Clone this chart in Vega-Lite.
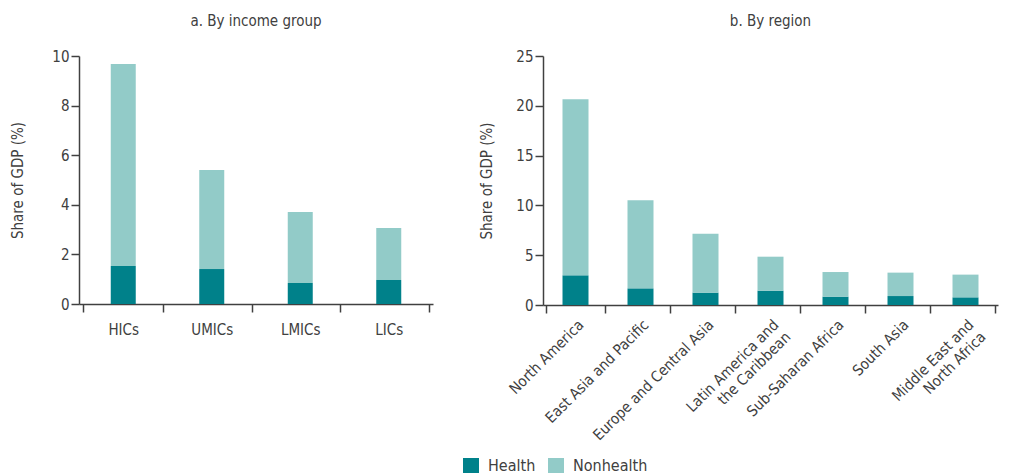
{
  "$schema": "https://vega.github.io/schema/vega-lite/v6.json",
  "background": "white",
  "padding": {"left": 10, "top": 14, "right": 5, "bottom": 0},
  "spacing": 46,
  "datasets": {
    "income": [
      {"group": "HICs", "component": "Health", "value": 1.53},
      {"group": "HICs", "component": "Nonhealth", "value": 8.15},
      {"group": "UMICs", "component": "Health", "value": 1.41},
      {"group": "UMICs", "component": "Nonhealth", "value": 3.99},
      {"group": "LMICs", "component": "Health", "value": 0.85},
      {"group": "LMICs", "component": "Nonhealth", "value": 2.86},
      {"group": "LICs", "component": "Health", "value": 0.97},
      {"group": "LICs", "component": "Nonhealth", "value": 2.09}
    ],
    "region": [
      {"region": "North America", "component": "Health", "value": 2.98},
      {"region": "North America", "component": "Nonhealth", "value": 17.67},
      {"region": "East Asia and Pacific", "component": "Health", "value": 1.67},
      {"region": "East Asia and Pacific", "component": "Nonhealth", "value": 8.84},
      {"region": "Europe and Central Asia", "component": "Health", "value": 1.24},
      {"region": "Europe and Central Asia", "component": "Nonhealth", "value": 5.92},
      {"region": "Latin America and|the Caribbean", "component": "Health", "value": 1.44},
      {"region": "Latin America and|the Caribbean", "component": "Nonhealth", "value": 3.41},
      {"region": "Sub-Saharan Africa", "component": "Health", "value": 0.84},
      {"region": "Sub-Saharan Africa", "component": "Nonhealth", "value": 2.47},
      {"region": "South Asia", "component": "Health", "value": 0.9},
      {"region": "South Asia", "component": "Nonhealth", "value": 2.35},
      {"region": "Middle East and|North Africa", "component": "Health", "value": 0.77},
      {"region": "Middle East and|North Africa", "component": "Nonhealth", "value": 2.28}
    ]
  },
  "config": {
    "font": "Liberation Sans Narrow, DejaVu Sans Condensed, Roboto, sans-serif",
    "view": {"stroke": null},
    "axis": {
      "domainColor": "#404040",
      "tickColor": "#404040",
      "labelColor": "#404040",
      "titleColor": "#404040",
      "labelFontSize": 15,
      "titleFontSize": 15,
      "titleFontWeight": "normal",
      "tickSize": 8,
      "domainWidth": 1.5,
      "tickWidth": 1.5,
      "grid": false
    },
    "title": {"fontSize": 15, "fontWeight": "normal", "color": "#404040", "offset": 20},
    "legend": {"labelFontSize": 16, "labelColor": "#404040"}
  },
  "resolve": {"scale": {"color": "shared"}},
  "hconcat": [
    {
      "width": 354,
      "height": 248,
      "title": {"text": "a. By income group"},
      "data": {"name": "income"},
      "mark": {"type": "bar", "width": 25},
      "encoding": {
        "x": {"field": "group", "type": "nominal", "sort": null,
          "axis": {"title": null, "labelAngle": 0, "tickBand": "extent", "labelPadding": 10}},
        "y": {"field": "value", "type": "quantitative", "stack": "zero",
          "scale": {"domain": [0, 10]},
          "axis": {"title": "Share of GDP (%)", "values": [0, 2, 4, 6, 8, 10], "titlePadding": 26}},
        "color": {"field": "component", "type": "nominal",
          "scale": {"domain": ["Health", "Nonhealth"], "range": ["#00818A", "#92CBC8"]},
          "legend": {"title": null, "orient": "none", "direction": "horizontal", "legendX": 384, "legendY": 402,
            "symbolType": "square", "symbolSize": 256, "symbolStrokeWidth": 0, "labelOffset": 9, "columnPadding": 12}},
        "order": {"field": "component", "sort": "ascending"}
      }
    },
    {
      "width": 455,
      "height": 249,
      "title": {"text": "b. By region"},
      "data": {"name": "region"},
      "mark": {"type": "bar", "width": 26},
      "encoding": {
        "x": {"field": "region", "type": "nominal", "sort": null,
          "axis": {"title": null, "labelAngle": -45, "tickBand": "extent", "labelPadding": 4,
            "labelExpr": "split(datum.label, '|')", "labelLineHeight": 17}},
        "y": {"field": "value", "type": "quantitative", "stack": "zero",
          "scale": {"domain": [0, 25]},
          "axis": {"title": "Share of GDP (%)", "values": [0, 5, 10, 15, 20, 25], "titlePadding": 21}},
        "color": {"field": "component", "type": "nominal"},
        "order": {"field": "component", "sort": "ascending"}
      }
    }
  ]
}
